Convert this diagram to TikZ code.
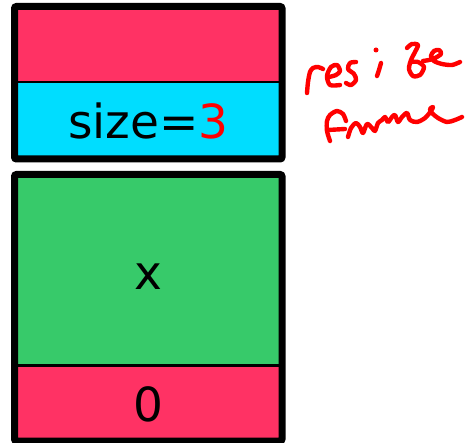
\documentclass[tikz,border=0pt]{standalone}
\usepackage{fontspec}
\setmainfont{DejaVu Sans}
\usetikzlibrary{fit}
\definecolor{cellred}{RGB}{255,50,100}
\definecolor{cellcyan}{RGB}{0,221,255}
\definecolor{cellgreen}{RGB}{55,202,106}
\definecolor{inkred}{RGB}{255,0,0}
\tikzset{
  cell/.style={draw=black, line width=2.5pt, minimum width=265pt, inner sep=0pt, anchor=north west, font=\fontsize{47}{50}\selectfont},
  frame/.style={draw=black, line width=7pt, rounded corners=2pt, inner sep=0pt},
  ink/.style={draw=inkred, line width=4.4pt, line cap=round, line join=round}
}
\begin{document}
\begin{tikzpicture}[x=1pt,y=-1pt]
\useasboundingbox (0,0) rectangle (465,443);
% top frame cells
\node[cell, fill=cellred, minimum height=74.5pt] (topred) at (14.5,6.5) {};
\node[cell, fill=cellcyan, minimum height=75.5pt] (size) at (14.5,81) {\raisebox{-1pt}[\height][\depth]{size=\textcolor{inkred}{3}}};
\node[frame, fit=(topred)(size)] (topframe) {};
% bottom frame cells
\node[cell, fill=cellgreen, minimum height=189.5pt] (xcell) at (14.5,174.5) {\raisebox{-6pt}[\height][\depth]{x}};
\node[cell, fill=cellred, minimum height=74.5pt] (zero) at (14.5,364) {\raisebox{-2pt}[\height][\depth]{0}};
\node[frame, fit=(xcell)(zero)] (botframe) {};
% handwritten "resize frame"
% r
\draw[ink] plot[smooth] coordinates {(307,93) (308,82) (310,72) (313,68) (318,67) (323,69)};
% e
\draw[ink] plot[smooth] coordinates {(329,77) (336,75) (340,71) (337,65) (331,67) (327,76) (330,85) (340,85)};
% s
\draw[ink] plot[smooth] coordinates {(356,62) (350,63) (348,69) (354,74) (356,80) (351,85) (346,83)};
% i
\draw[ink] plot[smooth] coordinates {(381,63) (379,70) (377,76)};
\fill[inkred] (376,50) circle (2.5pt);
% z
\draw[ink] plot[smooth] coordinates {(407,48) (412,44) (418,45) (415,52) (411,60) (409,69) (413,76) (420,75) (424,67) (418,62) (411,62)};
% e
\draw[ink] plot[smooth] coordinates {(423,61) (433,59) (441,54) (439,50) (434,51) (431,56) (434,61) (442,64) (452,65) (460,62)};
% F
\draw[ink] plot[smooth] coordinates {(330,141) (327,131) (327,121) (330,115) (337,111) (343,114) (346,121)};
\draw[ink] (328,130) -- (345,129);
% r a m e
\draw[ink] plot[smooth] coordinates {(348,137) (351,128) (356,123) (360,127) (363,133) (367,124) (372,128) (375,131) (378,123) (382,120) (385,117) (388,122) (392,117) (395,115) (398,122) (402,117) (407,113) (410,120) (417,122) (425,118) (431,111) (433,107) (430,109) (432,113) (438,118) (447,122) (455,120) (462,117)};
\end{tikzpicture}
\end{document}
